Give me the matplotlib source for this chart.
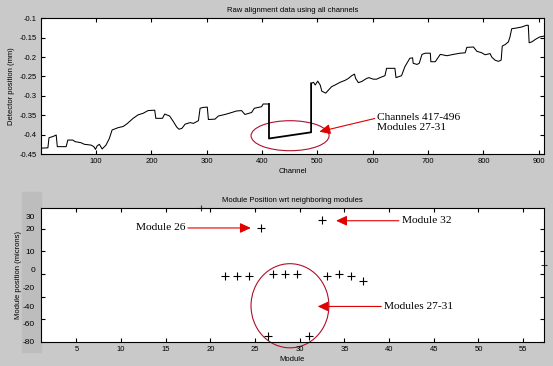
import numpy as np
import matplotlib
matplotlib.use('Agg')
import matplotlib.pyplot as plt
from matplotlib.patches import Ellipse, Rectangle

plt.rcParams['font.family'] = ['Liberation Sans', 'DejaVu Sans']

# ---- top panel: raw alignment data (channel, detector position in mm) ----
left_ch = [0, 13, 15, 22, 28, 30, 46, 49, 58, 62, 73, 79, 91, 96, 99, 102, 106,
           111, 118, 124, 129, 140, 149, 156, 167, 176, 185, 194, 206, 208, 220,
           224, 233, 240, 246, 250, 255, 261, 270, 276, 285, 288, 293, 301, 303,
           315, 321, 333, 345, 354, 363, 369, 381, 386, 399, 402, 412.5]
left_pos = [-0.435, -0.434, -0.408, -0.405, -0.401, -0.431, -0.431, -0.414,
            -0.414, -0.418, -0.421, -0.425, -0.427, -0.431, -0.438, -0.429,
            -0.425, -0.437, -0.427, -0.410, -0.388, -0.382, -0.379, -0.372,
            -0.358, -0.349, -0.345, -0.338, -0.337, -0.358, -0.358, -0.347,
            -0.352, -0.367, -0.381, -0.386, -0.384, -0.373, -0.369, -0.371,
            -0.364, -0.332, -0.330, -0.329, -0.361, -0.360, -0.352, -0.348,
            -0.343, -0.339, -0.338, -0.348, -0.343, -0.332, -0.328, -0.321,
            -0.321]

# channels 417-496 (modules 27-31)
mid_ch = [412.5, 412.5, 488.6, 488.6]
mid_pos = [-0.321, -0.410, -0.394, -0.268]

right_ch = [488.6, 493, 496, 500.5, 505, 508, 515, 520, 526, 532, 541, 550, 556,
            562, 567, 569, 574, 580, 589, 593, 601, 607, 613, 622, 625, 640, 642,
            652, 658, 667, 672, 673, 680, 684, 689, 695, 704, 705, 713, 722, 734,
            746, 758, 767, 770, 782, 788, 797, 803, 812, 815, 821, 827, 832, 834,
            839, 845, 848, 851, 860, 869, 878, 881, 882.6, 887, 896, 902, 910]
right_pos = [-0.268, -0.265, -0.272, -0.262, -0.272, -0.288, -0.293, -0.285,
             -0.276, -0.272, -0.265, -0.260, -0.255, -0.248, -0.244, -0.255,
             -0.266, -0.263, -0.255, -0.253, -0.257, -0.257, -0.253, -0.248,
             -0.229, -0.229, -0.253, -0.248, -0.225, -0.203, -0.202, -0.216,
             -0.219, -0.216, -0.193, -0.190, -0.190, -0.212, -0.212, -0.193,
             -0.1965, -0.193, -0.190, -0.189, -0.175, -0.174, -0.185, -0.189,
             -0.194, -0.191, -0.200, -0.208, -0.211, -0.208, -0.1715, -0.168,
             -0.161, -0.148, -0.127, -0.125, -0.1225, -0.118, -0.118, -0.163,
             -0.161, -0.1525, -0.148, -0.1457]

top_yticks = [-0.45, -0.4, -0.35, -0.3, -0.25, -0.2, -0.15, -0.1]
top_ylabels = ['-0.45', '-0.4', '-0.35', '-0.3', '-0.25', '-0.2', '-0.15', '-0.1']

# ---- bottom panel: module position wrt neighbours (microns) ----
mod_x = [21.64, 23.02, 24.36, 25.67, 26.42, 27.05, 28.39, 29.73, 31.07, 32.46,
         33.02, 34.40, 35.74, 37.11]
mod_y = [-21.3, -21.3, -21.3, 20.4, -75.0, -20.1, -20.1, -20.1, -75.0, 27.8,
         -21.3, -20.1, -21.9, -25.7]

# stray blue points at the frame edge
stray_x = [18.95]
stray_y = [38.6]

bot_true_ticks = [-80, -60, -40, -20, 0, 20]
# hand-placed replacement labels (position in axis units, text)
bot_label_pos = [30.7, 20.3, -0.4, -16.3, -32.2, -48.9, -63.9, -79.7]
bot_label_txt = ['30', '20', '10', '0', '-20', '-40', '-60', '-80']

BG = '#c9c9c9'
RED = '#e00000'
DARKRED = '#b0102a'

fig = plt.figure(figsize=(5.53, 3.66), dpi=100)
fig.set_facecolor(BG)

# gray patch behind the edited labels
fig.patches.append(Rectangle((21.7 / 553, 1 - 352 / 366), 19 / 553, 160 / 366,
                             transform=fig.transFigure, color='#bdbdbd',
                             zorder=-5))

ax1 = fig.add_axes([0.0736, 0.5792, 0.9107, 0.3708])
ax2 = fig.add_axes([0.0736, 0.0656, 0.9101, 0.3669])

# === TOP ===
ax1.plot(left_ch, left_pos, color='black', lw=0.75)
ax1.plot(mid_ch, mid_pos, color='black', lw=1.3)
ax1.plot(right_ch, right_pos, color='black', lw=0.75)
ax1.set_xlim(0, 910)
ax1.set_ylim(-0.45, -0.1)
ax1.set_xticks(range(100, 901, 100))
ax1.set_yticks(top_yticks, labels=top_ylabels)
ax1.set_title('Raw alignment data using all channels', fontsize=5.5, pad=4.5)
ax1.set_xlabel('Channel', fontsize=5.5, labelpad=2)
ax1.set_ylabel('Detector position (mm)', fontsize=5.5, labelpad=3)

ax1.add_patch(Ellipse((450.6, -0.4028), 141, 0.0774, fill=False,
                      edgecolor=DARKRED, lw=0.8))
ax1.annotate('Channels 417-496\nModules 27-31', xy=(503.5, -0.3925),
             xytext=(608.5, -0.3690), fontsize=8.2, family='Liberation Serif',
             ha='left', va='center', linespacing=1.15,
             arrowprops=dict(arrowstyle='-|>,head_length=0.65,head_width=0.3',
                             color=RED, lw=0.8, shrinkA=0, shrinkB=0,
                             mutation_scale=10,
                             relpos=(0, 0.75)))

# === BOTTOM ===
ax2.plot(mod_x, mod_y, '+', color='black', ms=6, mew=0.8)
ax2.plot(stray_x, stray_y, '+', color='#2020c0', ms=4, mew=0.8, clip_on=False)
ax2.plot([57.33], [-11.9], '_', color='#2020c0', ms=4, mew=0.8, clip_on=False)
ax2.set_xlim(1, 57.33)
ax2.set_ylim(-80, 38.6)
ax2.set_xticks(range(5, 56, 5))
ax2.set_yticks(bot_label_pos, labels=bot_label_txt)
ax2.set_yticks(bot_true_ticks, minor=True)
ax2.tick_params(axis='y', which='major', length=0, labelsize=6, pad=4)
ax2.tick_params(axis='y', which='minor', length=3.2, width=0.8,
                direction='in', left=True, right=True)
ax2.set_title('Module Position wrt neighboring modules', fontsize=5.5, pad=4)
ax2.set_xlabel('Module', fontsize=5.5, labelpad=2)
ax2.set_ylabel('Module position (microns)', fontsize=5.5, labelpad=1)

ax2.add_patch(Ellipse((28.9, -48.0), 8.72, 74.3, fill=False,
                      edgecolor=DARKRED, lw=0.8, clip_on=False))

arrow = dict(arrowstyle='-|>,head_length=0.65,head_width=0.3', color=RED,
             lw=0.8, shrinkA=0, shrinkB=0, mutation_scale=10)
ax2.annotate('Module 26', xy=(24.52, 20.7), xytext=(17.17, 20.7),
             fontsize=8.2, family='Liberation Serif', ha='right', va='center',
             arrowprops=dict(arrow, relpos=(1, 0.5)))
ax2.annotate('Module 32', xy=(34.06, 27.1), xytext=(41.4, 27.1),
             fontsize=8.2, family='Liberation Serif', ha='left', va='center',
             arrowprops=dict(arrow, relpos=(0, 0.5)))
ax2.annotate('Modules 27-31', xy=(32.0, -48.6), xytext=(39.43, -48.6),
             fontsize=8.2, family='Liberation Serif', ha='left', va='center',
             arrowprops=dict(arrow, relpos=(0, 0.5)))

for ax in (ax1, ax2):
    ax.set_facecolor('white')
    ax.tick_params(axis='x', which='major', direction='in', length=3.2,
                   width=0.8, top=True, bottom=True, labelsize=5.5, pad=3)
    for s in ax.spines.values():
        s.set_linewidth(0.8)
ax1.tick_params(axis='y', direction='in', length=3.2, width=0.8, left=True,
                right=True, labelsize=5.5, pad=3)

fig.savefig('out.png', dpi=100, facecolor=BG)
